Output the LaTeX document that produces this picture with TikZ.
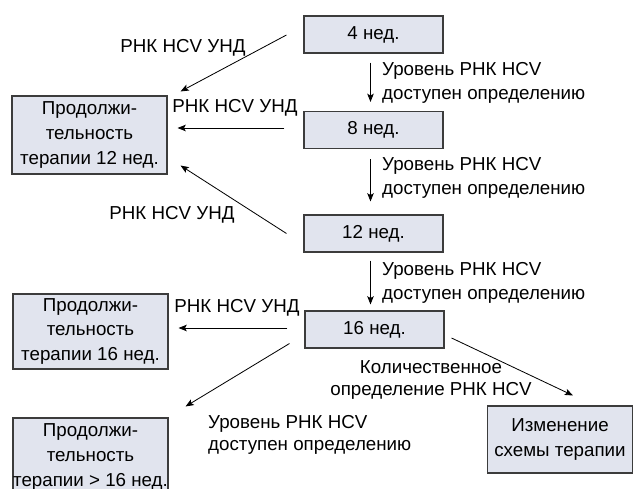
\documentclass[tikz,border=0pt]{standalone}
\usepackage{fontspec}
\setmainfont{Liberation Sans}
\usetikzlibrary{arrows.meta}
\definecolor{boxfill}{RGB}{225,228,238}
\definecolor{boxline}{RGB}{60,60,60}

\begin{document}
\begin{tikzpicture}[x=0.03cm,y=-0.03cm,
		every node/.style={font=\fontsize{16}{21}\selectfont, inner sep=0pt},
		weekbox/.style={draw=boxline, fill=boxfill, line width=0.9pt, minimum width=4.17cm, minimum height=1.11cm},
		termbox/.style={draw=boxline, fill=boxfill, line width=0.9pt, align=center, minimum width=4.65cm, minimum height=2.34cm},
		note/.style={align=left, anchor=west},
		tight/.style={font=\fontsize{16}{18.7}\selectfont},
		flow/.style={black, line width=0.7pt, -{Stealth[length=7pt,width=5.5pt,inset=1.5pt]}}]
				\clip (0,0) rectangle (634,489);
				\node[weekbox] (w4) at (373.5,34.5) {4 нед.};
				\node[weekbox] (w8) at (373.5,130) {8 нед.};
				\node[weekbox] (w12) at (373.5,233.5) {12 нед.};
				\node[weekbox] (w16) at (374.5,329.5) {16 нед.};
				\node[termbox] (dur12) at (89.5,135) {Продолжи-\\тельность\\терапии 12 нед.};
				\node[termbox, minimum height=2.25cm] (dur16) at (90.5,331.5) {Продолжи-\\тельность\\терапии 16 нед.};
				\node[termbox] (durmore) at (90.5,457) {Продолжи-\\тельность\\терапии > 16 нед.};
				\node[termbox, minimum width=4.35cm, minimum height=2.01cm] (change) at (560,439.5) {Изменение\\схемы терапии};
				\node (und1) at (183,48) {РНК HCV УНД};
				\node (und2) at (235,108) {РНК HCV УНД};
				\node (und3) at (172,215) {РНК HCV УНД};
				\node (und4) at (237,308) {РНК HCV УНД};
				\node[note] (lev1) at (382,83) {Уровень РНК HCV\\доступен определению};
				\node[note] (lev2) at (382,178) {Уровень РНК HCV\\доступен определению};
				\node[note] (lev3) at (382,283) {Уровень РНК HCV\\доступен определению};
				\node[note, tight] (lev4) at (208,435) {Уровень РНК HCV\\доступен определению};
				\node[tight, align=center] (quant) at (431,380) {Количественное\\определение РНК HCV};
				\draw[flow] ([shift={(-17,0.5)}]w4.west) -- ([shift={(13,-4)}]dur12.north east);
				\draw[flow] ([shift={(-19,-2)}]w8.west) -- ([shift={(10,-7)}]dur12.east);
				\draw[flow] ([shift={(-17,0)}]w12.west) -- ([shift={(13,-9)}]dur12.south east);
				\draw[flow] ([shift={(-3,9)}]w4.south) -- ([shift={(-3,-9)}]w8.north);
				\draw[flow] ([shift={(-3,10)}]w8.south) -- ([shift={(-3,-13)}]w12.north);
				\draw[flow] ([shift={(-3,8)}]w12.south) -- ([shift={(-4,-6)}]w16.north);
				\draw[flow] ([shift={(-17,-1.5)}]w16.west) -- ([shift={(10,-3.5)}]dur16.east);
				\draw[flow] ([shift={(-15,-5)}]w16.south west) -- ([shift={(17,-11)}]durmore.north east);
				\draw[flow] ([shift={(7,8.5)}]w16.east) -- ([shift={(13,-10)}]change.north);
			\end{tikzpicture}
\end{document}
